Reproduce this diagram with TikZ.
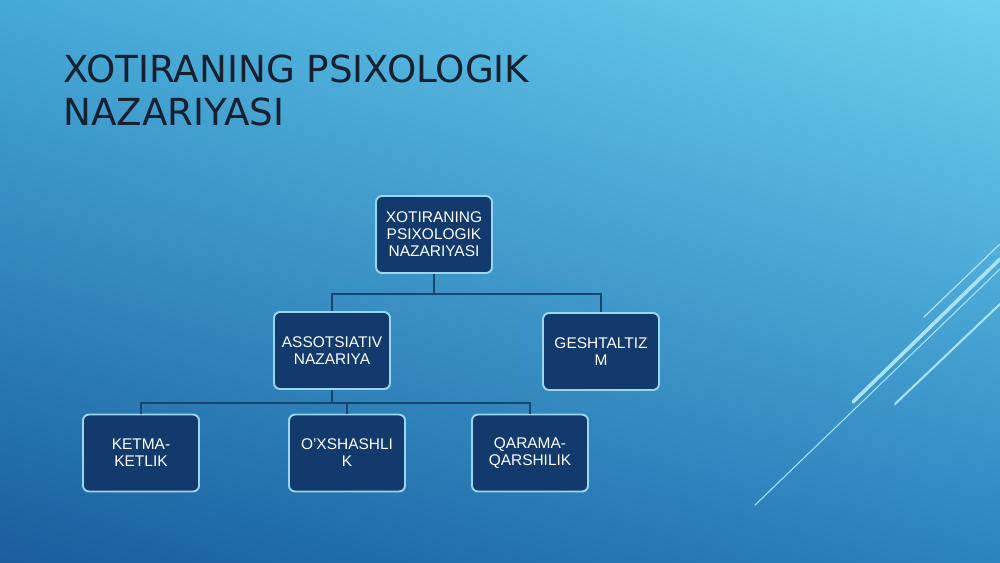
\documentclass[tikz,border=0pt]{standalone}
\usepackage{fontspec}
\setmainfont{Liberation Sans}
\newfontfamily\titlefont{DejaVu Sans}
\usetikzlibrary{shapes,shadings}
\definecolor{boxfill}{HTML}{123A6C}
\definecolor{boxline}{HTML}{9AD6EE}
\definecolor{cnline}{HTML}{17456E}
\definecolor{titlecol}{HTML}{16202E}
\definecolor{deco}{HTML}{A9E4F6}
\definecolor{bgul}{HTML}{45A9D8}
\definecolor{bgur}{HTML}{6FD0EF}
\definecolor{bgll}{HTML}{1A5E9C}
\definecolor{bglr}{HTML}{2B84BF}
\tikzstyle{bx}=[rectangle,rounded corners=3.4pt,draw=boxline,line width=1.1pt,fill=boxfill,text=white,
  minimum width=2.32cm,minimum height=1.54cm,inner sep=1pt,align=center,
  font=\fontsize{8.8}{9.7}\selectfont]
\tikzstyle{cn}=[draw=cnline,line width=.9pt]
\tikzstyle{dl}=[draw=deco,line cap=round]

\begin{document}
\begin{tikzpicture}[x=0.02cm,y=-0.02cm]
\shade[upper left=bgul,upper right=bgur,lower left=bgll,lower right=bglr] (0,0) rectangle (1000,562);
\useasboundingbox (0,0) rectangle (1000,562);
% title
\node[anchor=base west,inner sep=0,text=titlecol,font=\titlefont\fontsize{21.2}{24.5}\selectfont] (title1) at (63,82) {XOTIRANING PSIXOLOGIK};
\node[anchor=base west,inner sep=0,text=titlecol,font=\titlefont\fontsize{21.2}{24.5}\selectfont] (title2) at (63,125) {NAZARIYASI};
% decoration lines
\draw[dl,line width=.7pt] (924,317) -- (1000,244);
\draw[dl,line width=2pt] (853,402) -- (1000,259);
\draw[dl,line width=.6pt] (755,505) -- (1000,269);
\draw[dl,line width=1.2pt] (895,404) -- (1000,304);
% boxes
\node[bx] (root) at (434,234.5) {XOTIRANING\\PSIXOLOGIK\\NAZARIYASI};
\node[bx] (assoc) at (332,350.5) {ASSOTSIATIV\\NAZARIYA};
\node[bx] (gesh) at (601,351.5) {GESHTALTIZ\\M};
\node[bx] (ketma) at (141,453) {KETMA-\\KETLIK};
\node[bx] (oxsh) at (347,453) {O’XSHASHLI\\K};
\node[bx] (qarama) at (530,453) {QARAMA-\\QARSHILIK};
% connectors
\draw[cn] (root.south) -- ++(0,20) -| (assoc.north);
\draw[cn] (root.south) -- ++(0,20) -| (gesh.north);
\draw[cn] (assoc.south) -- ++(0,13) -| (ketma.north);
\draw[cn] (assoc.south) -- ++(0,13) -| (oxsh.north);
\draw[cn] (assoc.south) -- ++(0,13) -| (qarama.north);
\end{tikzpicture}
\end{document}
